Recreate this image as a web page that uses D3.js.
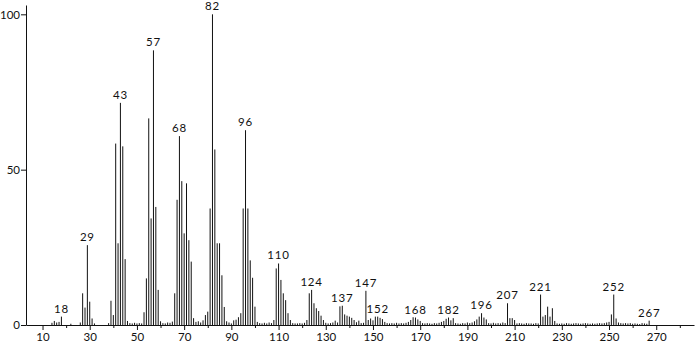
<!DOCTYPE html>
<html lang="en">
<head>
<meta charset="UTF-8" />
<script src="https://d3js.org/d3.v7.min.js"></script>
<title>Mass spectrum</title>
<style>
  body { margin: 0; background: #fff; }
  text { font-family: "Century Gothic", "URW Gothic", Lato, sans-serif; fill: #111; }
</style>
</head>
<body>
<script>

// m/z values and relative intensities
var masses = [14,15,16,17,18,22,26,27,28,29,30,31,32,38,39,40,41,42,43,44,45,46,47,48,49,50,51,52,53,54,55,56,57,58,59,60,61,62,63,64,65,66,67,68,69,70,71,72,73,74,75,76,77,78,79,80,81,82,83,84,85,86,87,88,89,90,91,92,93,94,95,96,97,98,99,100,101,102,103,104,105,106,107,108,109,110,111,112,113,114,115,116,117,118,119,120,121,122,123,124,125,126,127,128,129,130,131,132,133,134,135,136,137,138,139,140,141,142,143,144,145,146,147,148,149,150,151,152,153,154,155,156,157,158,159,160,161,162,163,164,165,166,167,168,169,170,171,172,173,174,175,176,177,178,179,180,181,182,183,184,185,186,187,188,189,190,191,192,193,194,195,196,197,198,199,200,201,202,203,204,205,206,207,208,209,210,211,212,213,214,215,216,217,218,219,220,221,222,223,224,225,226,227,228,229,230,231,232,233,234,235,236,237,238,239,240,241,242,243,244,245,246,247,248,249,250,251,252,253,254,255,256,257,258,259,260,261,262,263,264,265,266,267];
var intensity = [0.7,1.3,0.8,1.0,2.7,0.4,0.8,10.2,5.6,25.7,7.5,2.1,0.5,0.6,7.8,3.2,58.4,26.3,71.5,57.5,21.2,1.3,0.6,0.5,0.7,0.5,0.6,0.5,4.1,15,66.5,34.3,88.4,38,11.3,1.2,0.6,0.5,0.8,0.7,1.1,10.2,40.3,60.8,46.3,29.5,45.6,27.3,20.4,2.2,1.0,1.2,0.8,1.5,3.2,4.3,37.5,100,56.5,26.3,26.3,16,5.8,1.2,0.8,0.5,1.5,1.7,2.5,3.8,37.5,62.7,37.5,20.8,15.2,5.9,1.0,0.6,0.5,0.7,0.5,0.8,0.6,1.6,18.2,19.8,14.5,10.2,8,3.8,1.6,0.6,0.5,0.5,0.6,0.5,0.7,1.6,10.2,11.3,7,5.4,4.5,3,1.6,0.7,0.5,0.6,0.8,1.4,0.8,6,6.2,3.4,3,2.7,2.3,1.6,0.9,1.4,0.6,0.7,11,1.6,2.1,1.5,2.7,2.7,2.3,1.9,1,0.6,0.5,0.6,0.5,0.7,0.5,0.6,0.5,0.7,1,1.6,2.5,2.4,1.8,1.3,0.6,0.5,0.6,0.5,0.4,0.6,0.5,0.7,1,1.3,2,2.4,1.5,2.2,0.6,0.5,0.4,0.6,0.5,0.8,0.6,0.8,1.2,1.8,2.7,3.8,2.4,1.8,0.6,0.5,0.7,0.5,0.6,0.5,0.8,0.6,7,2.2,2.2,1.6,0.5,0.6,0.5,0.4,0.6,0.5,0.5,0.4,0.6,0.5,9.8,2.7,3.2,5.9,2.7,5.4,1.3,0.5,0.4,0.5,0.4,0.6,0.5,0.4,0.5,0.6,0.5,0.4,0.5,0.6,0.5,0.4,0.5,0.4,0.5,0.6,0.5,0.6,0.8,1,3.4,9.8,2.1,0.8,0.6,0.5,0.6,0.5,0.6,0.4,0.5,0.4,0.3,0.6,0.5,0.4,1.4];

// peaks that carry a label
var labelled = [18,29,43,57,68,82,96,110,124,137,147,152,168,182,196,207,221,252,267];

var xMajor = [10,30,50,70,90,110,130,150,170,190,210,230,250,270];
var xMinor = [20,40,60,80,100,120,140,160,180,200,220,240,260,280];
var yTicks = [0,50,100];

var width = 698, height = 344;
var svg = d3.select("body").append("svg").attr("width", width).attr("height", height);

var x = d3.scaleLinear().domain([3, 286]).range([26, 694]);
var y = d3.scaleLinear().domain([0, 103]).range([325, 5]);

var data = masses.map(function(m, i) { return {m: m, v: intensity[i]}; });

// bars
svg.append("g").selectAll("line").data(data).enter().append("line")
  .attr("x1", function(d) { return x(d.m); })
  .attr("x2", function(d) { return x(d.m); })
  .attr("y1", y(0))
  .attr("y2", function(d) { return y(d.v); })
  .attr("stroke", "#111")
  .attr("stroke-width", 1);

// peak labels
var lab = data.filter(function(d) { return labelled.indexOf(d.m) >= 0; });
svg.append("g").selectAll("text").data(lab).enter().append("text")
  .attr("x", function(d) { return x(d.m); })
  .attr("y", function(d) { return y(d.v) - 4; })
  .attr("text-anchor", "middle")
  .attr("font-size", 11.5)
  .attr("letter-spacing", 0.8)
  .text(function(d) { return d.m; });

// x axis
var gx = svg.append("g").attr("transform", "translate(0," + y(0) + ")")
  .call(d3.axisBottom(x).tickValues(xMajor).tickSize(5).tickSizeOuter(0).tickPadding(3));
svg.append("g").attr("transform", "translate(0," + y(0) + ")")
  .call(d3.axisBottom(x).tickValues(xMinor).tickSize(3).tickFormat("").tickSizeOuter(0))
  .select(".domain").remove();

// y axis
var gy = svg.append("g").attr("transform", "translate(" + x(3) + ",0)")
  .call(d3.axisLeft(y).tickValues(yTicks).tickSize(5).tickSizeOuter(0).tickPadding(1));

svg.selectAll(".tick text").attr("font-size", 11.5).attr("font-family", "\"Century Gothic\", \"URW Gothic\", Lato, sans-serif").attr("fill", "#111");
svg.selectAll(".domain, .tick line").attr("stroke", "#111");

</script>
</body>
</html>
